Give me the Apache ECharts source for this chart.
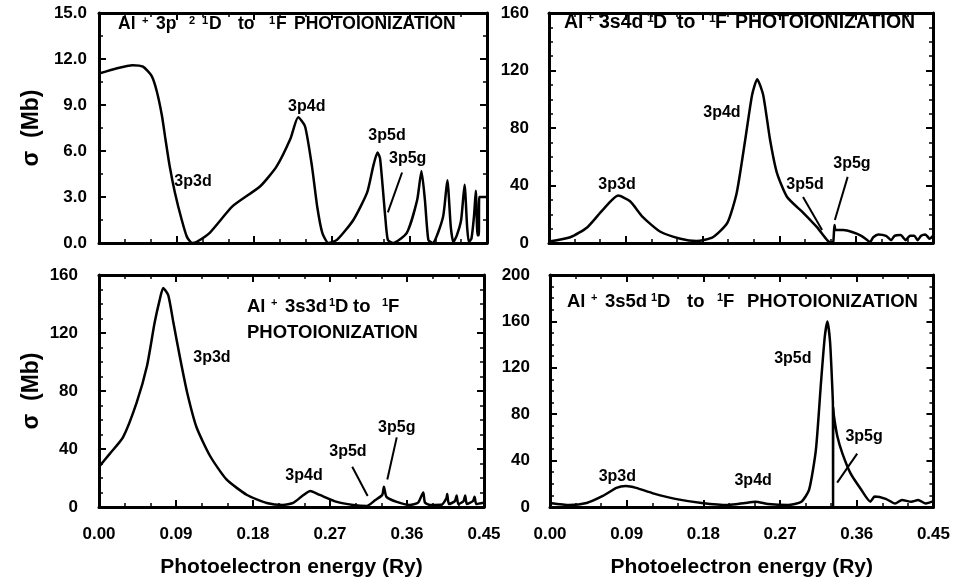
<!DOCTYPE html>
<html><head><meta charset="utf-8">
<script src="https://cdn.jsdelivr.net/npm/echarts@6/dist/echarts.min.js"></script>
<style>html,body{margin:0;padding:0;background:#fff}#c{width:953px;height:583px}</style>
</head><body><div id="c"></div>
<script>
// ---------- DATA ----------
const xTickLabels = ['0.00','0.09','0.18','0.27','0.36','0.45'];
const yTickLabels1 = ['0.0','3.0','6.0','9.0','12.0','15.0'];
const yTickLabels2 = ['0','40','80','120','160'];
const yTickLabels3 = ['0','40','80','120','160'];
const yTickLabels4 = ['0','40','80','120','160','200'];

// Panel 1: Al+ 3p2 1D -> 1F
const energy1 = [0.000,0.021,0.039,0.051,0.061,0.067,0.073,0.077,0.082,0.088,0.096,0.102,0.108,0.114,0.129,0.155,0.187,0.206,0.222,0.231,0.239,0.247,0.253,0.259,0.266,0.276,0.295,0.311,0.318,0.323,0.326,0.332,0.335,0.341,0.357,0.369,0.374,0.378,0.382,0.387,0.399,0.404,0.408,0.411,0.415,0.420,0.424,0.427,0.429,0.432,0.435,0.437,0.439,0.4405,0.441,0.450];
const sigma1  = [11.05,11.4,11.6,11.5,10.9,9.9,8.3,6.8,5.0,3.3,1.5,0.4,0.0,0.1,0.7,2.4,3.7,5.0,6.8,8.2,7.6,5.0,2.4,0.66,0.0,0.2,1.5,3.3,5.0,5.9,5.5,1.7,0.2,0.0,0.66,2.8,4.7,2.8,0.2,0.0,1.7,4.1,1.05,0.05,0.5,1.5,3.8,1.0,0.05,0.3,1.8,3.4,0.5,0.5,3.0,3.0];

// Panel 2: Al+ 3s4d 1D -> 1F
const energy2 = [0.000,0.025,0.045,0.063,0.081,0.095,0.110,0.130,0.154,0.173,0.192,0.209,0.220,0.230,0.238,0.244,0.251,0.259,0.267,0.279,0.298,0.314,0.326,0.330,0.333,0.3345,0.336,0.345,0.356,0.366,0.373,0.376,0.380,0.386,0.395,0.401,0.405,0.412,0.418,0.423,0.428,0.432,0.436,0.441,0.446,0.450];
const sigma2  = [1.0,4,11,23,33,29,18,8,3,1.4,4,14,35,72,103,114,103,72,49,32,21,11,2,0.3,0.5,12.5,9,9,7.5,5,2,0.5,4,6,5,2,5,5.5,2,5,5,2,5,6,3,5];

// Panel 3: Al+ 3s3d 1D -> 1F
const energy3 = [0.000,0.013,0.028,0.044,0.056,0.065,0.071,0.075,0.081,0.087,0.095,0.103,0.114,0.130,0.149,0.173,0.196,0.215,0.227,0.239,0.247,0.258,0.278,0.297,0.313,0.323,0.331,0.333,0.336,0.348,0.363,0.373,0.379,0.381,0.387,0.400,0.406,0.407,0.409,0.416,0.418,0.420,0.426,0.428,0.430,0.437,0.439,0.441,0.450];
const sigma3  = [27.7,37,48,72,97,127,143,151,146,127,102,79,55,35,19,8.3,2.8,1.4,2.8,8.3,11,8.3,3.5,1.4,0.7,4.8,8.3,14,7,3.5,1.4,3,10,3,1.4,1.5,6,9,2,4,8,2,4,8,2,4,7,2,3];

// Panel 4: Al+ 3s5d 1D -> 1F
const energy4 = [0.000,0.023,0.043,0.062,0.078,0.089,0.101,0.120,0.147,0.178,0.209,0.229,0.241,0.256,0.279,0.295,0.304,0.312,0.318,0.3225,0.3256,0.3287,0.3314,0.3320,0.3322,0.3324,0.3333,0.3372,0.343,0.3527,0.3643,0.376,0.381,0.394,0.405,0.413,0.424,0.432,0.441,0.450];
const sigma4  = [3.5,1.7,3.5,9.5,16.5,18,16.5,12,7,3.5,1.7,3.5,4.5,2.6,1.7,4.6,14.7,49,107,147,160,142,101,88,0,86,78,61,46.5,29,16,4.6,9,7,3,6,4.5,6,3,5];

// Resonance labels (text anchor in data coordinates)
const resNames = ['3p3d','3p4d','3p5d','3p5g'];
const labX1 = [0.109,0.241,0.334,0.358],  labY1 = [4.0,8.9,7.0,5.5];
const labX2 = [0.0797,0.2027,0.300,0.355], labY2 = [40.7,91,40.7,55];
const labX3 = [0.132,0.2396,0.291,0.348], labY3 = [103,21.5,38,55];
const labX4 = [0.079,0.2384,0.285,0.3686], labY4 = [26,22.5,128,61];

// Arrows [x1,y1,x2,y2] in data coordinates
const arrows1 = [[0.3515,4.6,0.335,2.0]];
const arrows2 = [[0.2977,32,0.320,9],[0.350,46,0.335,16]];
const arrows3 = [[0.296,27.7,0.314,7.6],[0.348,48,0.337,19]];
const arrows4 = [[0.3605,46,0.337,21]];

// Panel titles: pieces [text, superscript?]
const title1 = [['Al',0],['+',1],['3p',0],['2',1],['1',1],['D',0],['to',0],['1',1],['F',0],['PHOTOIONIZATION',0]];
const title2 = [['Al',0],['+',1],['3s4d',0],['1',1],['D',0],['to',0],['1',1],['F',0],['PHOTOIONIZATION',0]];
const title3a = [['Al',0],['+',1],['3s3d',0],['1',1],['D',0],['to',0],['1',1],['F',0]];
const title3b = [['PHOTOIONIZATION',0]];
const title4 = [['Al',0],['+',1],['3s5d',0],['1',1],['D',0],['to',0],['1',1],['F',0],['PHOTOIONIZATION',0]];

// ---------- CHART ----------
const FF = '"Liberation Sans", Arial, Helvetica, sans-serif';
const chart = echarts.init(document.getElementById('c'), null, {renderer:'canvas'});

const grids = [
  {left:99,  top:13,  width:388, height:230},
  {left:549, top:13,  width:384, height:230},
  {left:99,  top:275, width:385, height:232},
  {left:550, top:275, width:387, height:232}
];

const axisLine = {show:true, onZero:false, lineStyle:{color:'#000', width:3}};
const axisTick = {show:true, inside:true, length:7, lineStyle:{color:'#000', width:2}};
const minorTick = (n)=>({show:true, splitNumber:n, length:4, lineStyle:{color:'#000', width:1.5}});
const lblStyle = {fontSize:17, fontWeight:'bold', color:'#000', fontFamily:FF};

const xAxis = [], yAxis = [];
const yCfg = [
  {max:15, interval:3, labels:yTickLabels1, minor:2, margin:12},
  {max:160, interval:40, labels:yTickLabels2, minor:4, margin:20},
  {max:160, interval:40, labels:yTickLabels3, minor:4, margin:21},
  {max:200, interval:40, labels:yTickLabels4, minor:4, margin:20}
];
for (let g=0; g<4; g++) {
  const showX = g>=2;
  xAxis.push({
    type:'value', gridIndex:g, position:'bottom', min:0, max:0.45, interval:0.09,
    axisLine, axisTick, minorTick:minorTick(3), splitLine:{show:false},
    axisLabel:Object.assign({show:showX, margin:19, formatter:(v)=>xTickLabels[Math.round(v/0.09)]}, lblStyle),
    name: showX ? 'Photoelectron energy (Ry)' : '', nameLocation:'middle', nameGap:50,
    nameTextStyle:{fontSize:21, fontWeight:'bold', color:'#000', fontFamily:FF}
  });
  xAxis.push({
    type:'value', gridIndex:g, position:'top', min:0, max:0.45, interval:0.09,
    axisLine, axisTick, minorTick:minorTick(3), splitLine:{show:false}, axisLabel:{show:false}
  });
  const c = yCfg[g];
  const showName = (g===0 || g===2);
  yAxis.push({
    type:'value', gridIndex:g, position:'left', min:0, max:c.max, interval:c.interval,
    axisLine, axisTick, minorTick:minorTick(c.minor), splitLine:{show:false},
    axisLabel:Object.assign({margin:c.margin, formatter:(v)=>c.labels[Math.round(v/c.interval)]}, lblStyle),
    name: showName ? 'σ  (Mb)' : '', nameLocation:'middle', nameGap:56,
    nameTextStyle:{fontSize:23, fontWeight:'bold', color:'#000', fontFamily:FF}
  });
  yAxis.push({
    type:'value', gridIndex:g, position:'right', min:0, max:c.max, interval:c.interval,
    axisLine, axisTick, minorTick:minorTick(c.minor), splitLine:{show:false}, axisLabel:{show:false}
  });
}

const curves = [[energy1,sigma1],[energy2,sigma2],[energy3,sigma3],[energy4,sigma4]];
const labs = [[labX1,labY1],[labX2,labY2],[labX3,labY3],[labX4,labY4]];
const arrs = [arrows1,arrows2,arrows3,arrows4];
const series = [];
for (let g=0; g<4; g++) {
  const [ex, sy] = curves[g];
  series.push({
    type:'line', xAxisIndex:2*g, yAxisIndex:2*g,
    data: ex.map((x,i)=>[x, sy[i]]),
    showSymbol:false, smooth:0.2, silent:true,
    lineStyle:{color:'#000', width:2.5}
  });
  const [lx, ly] = labs[g];
  series.push({
    type:'scatter', xAxisIndex:2*g, yAxisIndex:2*g, symbolSize:0, silent:true,
    itemStyle:{opacity:1},
    data: resNames.map((n,i)=>({name:n, value:[lx[i], ly[i]]})),
    label:{show:true, position:'inside', formatter:'{b}', fontSize:16, fontWeight:'bold', color:'#000', opacity:1, fontFamily:FF},
    markLine:{
      silent:true, symbol:['none','arrow'], symbolSize:[0,10], animation:false,
      lineStyle:{color:'#000', width:2, type:'solid', opacity:1}, label:{show:false},
      data: arrs[g].map(a=>[{coord:[a[0],a[1]]},{coord:[a[2],a[3]]}])
    }
  });
}

// title layout: left x of each piece, centre y, font size
function titlePieces(pieces, xs, yc, fs) {
  return pieces.map((p,i)=>{
    const sup = p[1]===1;
    const f = sup ? Math.round(fs*0.6) : fs;
    return {type:'text', x:xs[i], y: sup ? yc - fs*0.2 : yc, z:100, silent:true,
      style:{text:p[0], fill:'#000', font:'bold '+f+'px '+FF, align:'left', verticalAlign:'middle'}};
  });
}
const graphic = [].concat(
  titlePieces(title1, [118,142,156,189,202,209,238,269,276,294], 24, 17.5),
  titlePieces(title2, [564,587,599,647,653,677,709,715,735], 23, 19.5),
  titlePieces(title3a,[247,271,285,329,335,353,382,388], 307, 18.5),
  titlePieces(title3b,[247], 333, 18.5),
  titlePieces(title4, [567,591,605,651,657,687,717,723,747], 302, 18.5)
);

chart.setOption({
  animation:false, backgroundColor:'#fff',
  grid:grids, xAxis, yAxis, series, graphic
});
</script></body></html>
